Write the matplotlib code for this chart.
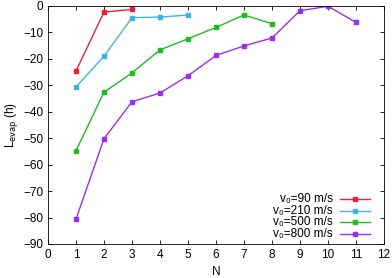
import matplotlib
matplotlib.use("Agg")
import matplotlib.pyplot as plt

plt.rcParams['font.family'] = ['Liberation Sans', 'DejaVu Sans']

x90 = [1, 2, 3]
y90 = [-24.6, -2.3, -1.3]
x210 = [1, 2, 3, 4, 5]
y210 = [-30.6, -19.0, -4.4, -4.2, -3.4]
x500 = [1, 2, 3, 4, 5, 6, 7, 8]
y500 = [-54.7, -32.6, -25.3, -16.6, -12.4, -8.1, -3.4, -6.7]
x800 = [1, 2, 3, 4, 5, 6, 7, 8, 9, 10, 11]
y800 = [-80.6, -50.2, -36.2, -32.9, -26.4, -18.7, -15.1, -12.1, -1.8, -0.1, -6.2]

labels = ['v\u2080=90 m/s', 'v\u2080=210 m/s', 'v\u2080=500 m/s', 'v\u2080=800 m/s']
colors = ['#e8203c', '#40b4e0', '#22bb22', '#9a2ef0']

fig = plt.figure(figsize=(3.92, 2.78), dpi=100)
ax = fig.add_axes([48/392, 1-244/278, 336/392, 238/278])

for xs, ys, c in zip([x90, x210, x500, x800], [y90, y210, y500, y800], colors):
    ax.plot(xs, ys, color=c, lw=1.0, marker='s', ms=3)

ax.set_xlim(0, 12)
ax.set_ylim(-90, 0)
ax.set_xticks(range(0, 13))
ax.set_yticks(range(-90, 1, 10))
ax.tick_params(direction='in', top=True, right=True, labelsize=8.5, length=3, width=0.6)
for s in ax.spines.values():
    s.set_linewidth(0.6)
ax.set_xlabel('N', fontsize=8.5, labelpad=4)
ax.set_ylabel('L$_{\\mathrm{evap}}$ (h)', fontsize=8.5, labelpad=2)

# legend, gnuplot style: right-aligned text then line sample
leg_y = [0.187, 0.140, 0.093, 0.044]
for lab, c, yy in zip(labels, colors, leg_y):
    ax.text(0.848, yy, lab, transform=ax.transAxes, ha='right', va='center', fontsize=8.5,
            family=['Liberation Sans', 'DejaVu Sans'])
    ax.plot([0.869, 0.958], [yy, yy], transform=ax.transAxes, color=c, lw=1.0, clip_on=False)
    ax.plot([0.914], [yy], transform=ax.transAxes, color=c, marker='s', ms=3, clip_on=False)

fig.savefig('out.png', dpi=100)
